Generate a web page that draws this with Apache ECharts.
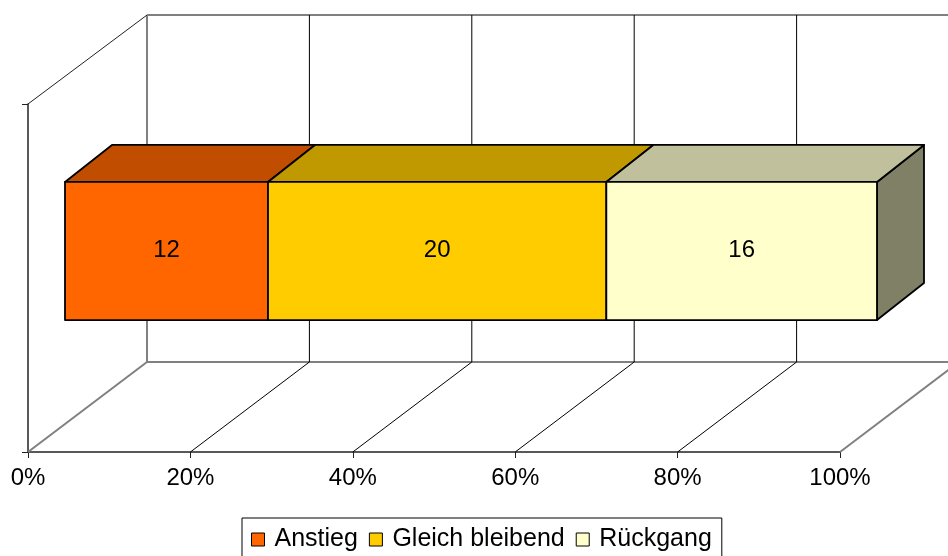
<!DOCTYPE html>
<html>
<head>
<meta charset="utf-8">
<style>
  html, body { margin: 0; padding: 0; background: #fff; }
  #chart { width: 948px; height: 556px; }
</style>
<script src="https://cdn.jsdelivr.net/npm/echarts@6/dist/echarts.min.js"></script>
</head>
<body>
<div id="chart"></div>
<script>
// Daten
var categories = ['Anstieg', 'Gleich bleibend', 'Rückgang'];
var counts = [12, 20, 16];
var tickValues = [0, 20, 40, 60, 80, 100];
var rowLabels = [''];

// Farben: Vorderseite, Oberseite, Seite
var frontColors = ['#FF6600', '#FFCC00', '#FFFFCC'];
var topColors = ['#C04D00', '#C09900', '#C0C09C'];
var sideColors = ['#803300', '#806600', '#808066'];

(function () {
  var myChart = echarts.init(document.getElementById('chart'));
  var FONT = "'Liberation Sans', Arial, sans-serif";

  // gestapelte Prozentanteile
  var total = counts.reduce(function (a, b) { return a + b; }, 0);
  var starts = [], ends = [];
  var acc = 0;
  counts.forEach(function (c) {
    starts.push(acc / total * 100);
    acc += c;
    ends.push(acc / total * 100);
  });

  // 3D-Versatz (Pixel)
  var WALL_DX = 119, WALL_DY = -90;
  var BAR_FRONT_DX = 37, BAR_FRONT_DY = -27;
  var BAR_DEPTH_DX = 47, BAR_DEPTH_DY = -37;
  var BAR_RATIO = 0.397;

  function ln(x1, y1, x2, y2, color, w) {
    return {
      type: 'line',
      shape: { x1: x1, y1: y1, x2: x2, y2: y2 },
      style: { stroke: color, lineWidth: w }
    };
  }

  // Boden und Rückwand
  function renderWalls(params, api) {
    var cs = params.coordSys;
    var x0 = api.coord([api.value(0), 0])[0];
    var bottom = cs.y + cs.height;
    var top = cs.y;
    var last = tickValues.length - 1;
    var isEdge = params.dataIndex === 0 || params.dataIndex === last;
    var color = isEdge ? '#808080' : '#000';
    var w = isEdge ? 2 : 1;
    var children = [
      ln(x0, bottom, x0 + WALL_DX, bottom + WALL_DY, color, w),
      ln(x0 + WALL_DX, bottom + WALL_DY, x0 + WALL_DX, top + WALL_DY + 1, color, w)
    ];
    if (params.dataIndex === 0) {
      var right = cs.x + cs.width + WALL_DX;
      children.push(ln(x0, top, x0 + WALL_DX, top + WALL_DY + 1, '#222', 1));
      children.push(ln(x0 + WALL_DX, top + WALL_DY + 1, right, top + WALL_DY + 1, '#808080', 2));
      children.push(ln(x0 + WALL_DX, bottom + WALL_DY, right, bottom + WALL_DY, '#808080', 2));
    }
    return { type: 'group', children: children };
  }

  function makeBarRenderer(i) {
    return function (params, api) {
      var a = api.coord([api.value(0), api.value(1)]);
      var b = api.coord([api.value(2), api.value(1)]);
      var h = api.size([0, 1])[1] * BAR_RATIO;
      var x1 = a[0] + BAR_FRONT_DX, x2 = b[0] + BAR_FRONT_DX;
      var yc = a[1] + BAR_FRONT_DY;
      var y1 = yc - h / 2, y2 = yc + h / 2;
      var dx = BAR_DEPTH_DX, dy = BAR_DEPTH_DY;
      var edge = { stroke: '#000', lineWidth: 1.8, lineJoin: 'round' };
      return {
        type: 'group',
        children: [
          {
            type: 'polygon',
            shape: { points: [[x2, y1], [x2 + dx, y1 + dy], [x2 + dx, y2 + dy], [x2, y2]] },
            style: Object.assign({ fill: sideColors[i] }, edge)
          },
          {
            type: 'polygon',
            shape: { points: [[x1, y1], [x2, y1], [x2 + dx, y1 + dy], [x1 + dx, y1 + dy]] },
            style: Object.assign({ fill: topColors[i] }, edge)
          },
          {
            type: 'rect',
            shape: { x: x1, y: y1, width: x2 - x1, height: y2 - y1 },
            style: Object.assign({ fill: frontColors[i] }, edge)
          },
          {
            type: 'text',
            style: {
              text: String(api.value(3)),
              x: (x1 + x2) / 2,
              y: yc - 1,
              textAlign: 'center',
              textVerticalAlign: 'middle',
              fontSize: 24,
              fontFamily: FONT,
              fill: '#000'
            }
          }
        ]
      };
    };
  }

  var series = [{
    name: 'walls',
    type: 'custom',
    clip: false,
    silent: true,
    renderItem: renderWalls,
    encode: { x: 0, y: 1 },
    data: tickValues.map(function (v) { return [v, 0]; })
  }];

  categories.forEach(function (name, i) {
    series.push({
      name: name,
      type: 'custom',
      clip: false,
      itemStyle: { color: frontColors[i] },
      renderItem: makeBarRenderer(i),
      encode: { x: [0, 2], y: 1 },
      data: [[starts[i], 0, ends[i], counts[i]]]
    });
  });

  var option = {
    animation: false,
    backgroundColor: '#fff',
    grid: { left: 28, right: 108, top: 104, bottom: 104 },
    xAxis: {
      type: 'value',
      min: tickValues[0],
      max: tickValues[tickValues.length - 1],
      interval: 20,
      axisLine: { show: true, lineStyle: { color: '#222', width: 1.5 } },
      axisTick: { show: true, length: 6, lineStyle: { color: '#222' } },
      axisLabel: { formatter: '{value}%', color: '#000', fontSize: 24, margin: 14, fontFamily: FONT },
      splitLine: { show: false }
    },
    yAxis: {
      type: 'category',
      data: rowLabels,
      axisLine: { show: true, lineStyle: { color: '#222', width: 1.5 } },
      axisTick: { show: true, length: 6, lineStyle: { color: '#222' } },
      axisLabel: { show: false },
      splitLine: { show: false }
    },
    legend: {
      data: categories,
      left: 242,
      top: 518,
      icon: 'rect',
      itemWidth: 13,
      itemHeight: 13,
      itemGap: 11,
      borderColor: '#000',
      borderWidth: 1,
      padding: [9, 10, 9, 9],
      itemStyle: { borderColor: '#000', borderWidth: 1 },
      textStyle: { color: '#000', fontSize: 25, fontFamily: FONT, padding: [0, 0, 0, 5] }
    },
    series: series
  };

  myChart.setOption(option);
  window.addEventListener('resize', function () {
    myChart.resize();
  });
})();
</script>
</body>
</html>
